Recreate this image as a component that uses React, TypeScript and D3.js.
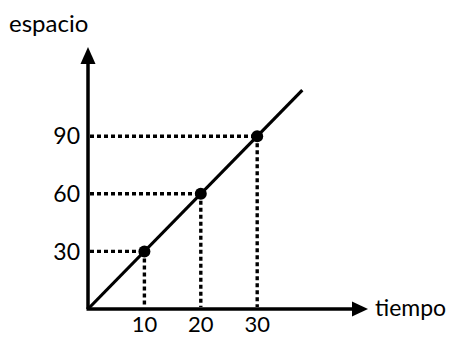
import React from "react";
import * as d3 from "d3";

const times = [10, 20, 30];
const distances = [30, 60, 90];
const xTicks = ["10", "20", "30"];
const yTicks = ["30", "60", "90"];
const lineEnd = [38, 114];
const xLabel = "tiempo";
const yLabel = "espacio";

export default function App() {
  const W = 449, H = 338;
  const x = d3.scaleLinear().domain([0, 10]).range([88, 144.4]);
  const y = d3.scaleLinear().domain([0, 30]).range([309, 251.4]);
  const font = "Lato, 'Open Sans', sans-serif";
  const line = d3.line<number[]>().x(d => x(d[0])).y(d => y(d[1]));
  const x0 = x(0), y0 = y(0);
  return (
    <svg width={W} height={H} style={{ position: "absolute", left: 0, top: 0, background: "#fff" }} fontFamily={font}>
      {times.map((t, i) => (
        <g key={i} stroke="#000" strokeWidth={3.4} strokeDasharray="4 3" fill="none">
          <line x1={x0 + 2} y1={y(distances[i])} x2={x(t)} y2={y(distances[i])} />
          <line x1={x(t)} y1={y(distances[i])} x2={x(t)} y2={y0 - 2} />
        </g>
      ))}
      <line x1={x0} y1={y0} x2={x0} y2={62} stroke="#000" strokeWidth={3.5} />
      <path d={`M${x0},47 L${x0 - 7.5},64 L${x0 + 7.5},64 Z`} fill="#000" />
      <line x1={x0 - 1.5} y1={y0} x2={354} y2={y0} stroke="#000" strokeWidth={3.5} />
      <path d={`M368,${y0} L352,${y0 - 7.5} L352,${y0 + 7.5} Z`} fill="#000" />
      <path d={line([[0, 0], lineEnd]) || ""} stroke="#000" strokeWidth={3.2} fill="none" />
      {times.map((t, i) => (
        <circle key={i} cx={x(t)} cy={y(distances[i])} r={6} fill="#000" />
      ))}
      {yTicks.map((s, i) => (
        <text key={i} x={x0 - 8} y={y(distances[i])} dy="0.36em" textAnchor="end" fontSize={23} fill="#000">{s}</text>
      ))}
      {xTicks.map((s, i) => (
        <text key={i} x={x(times[i])} y={332} textAnchor="middle" fontSize={22} fill="#000">{s}</text>
      ))}
      <text x={375} y={y0 + 7} fontSize={23} fill="#000">{xLabel}</text>
      <text x={9} y={32} fontSize={24} fill="#000">{yLabel}</text>
    </svg>
  );
}
